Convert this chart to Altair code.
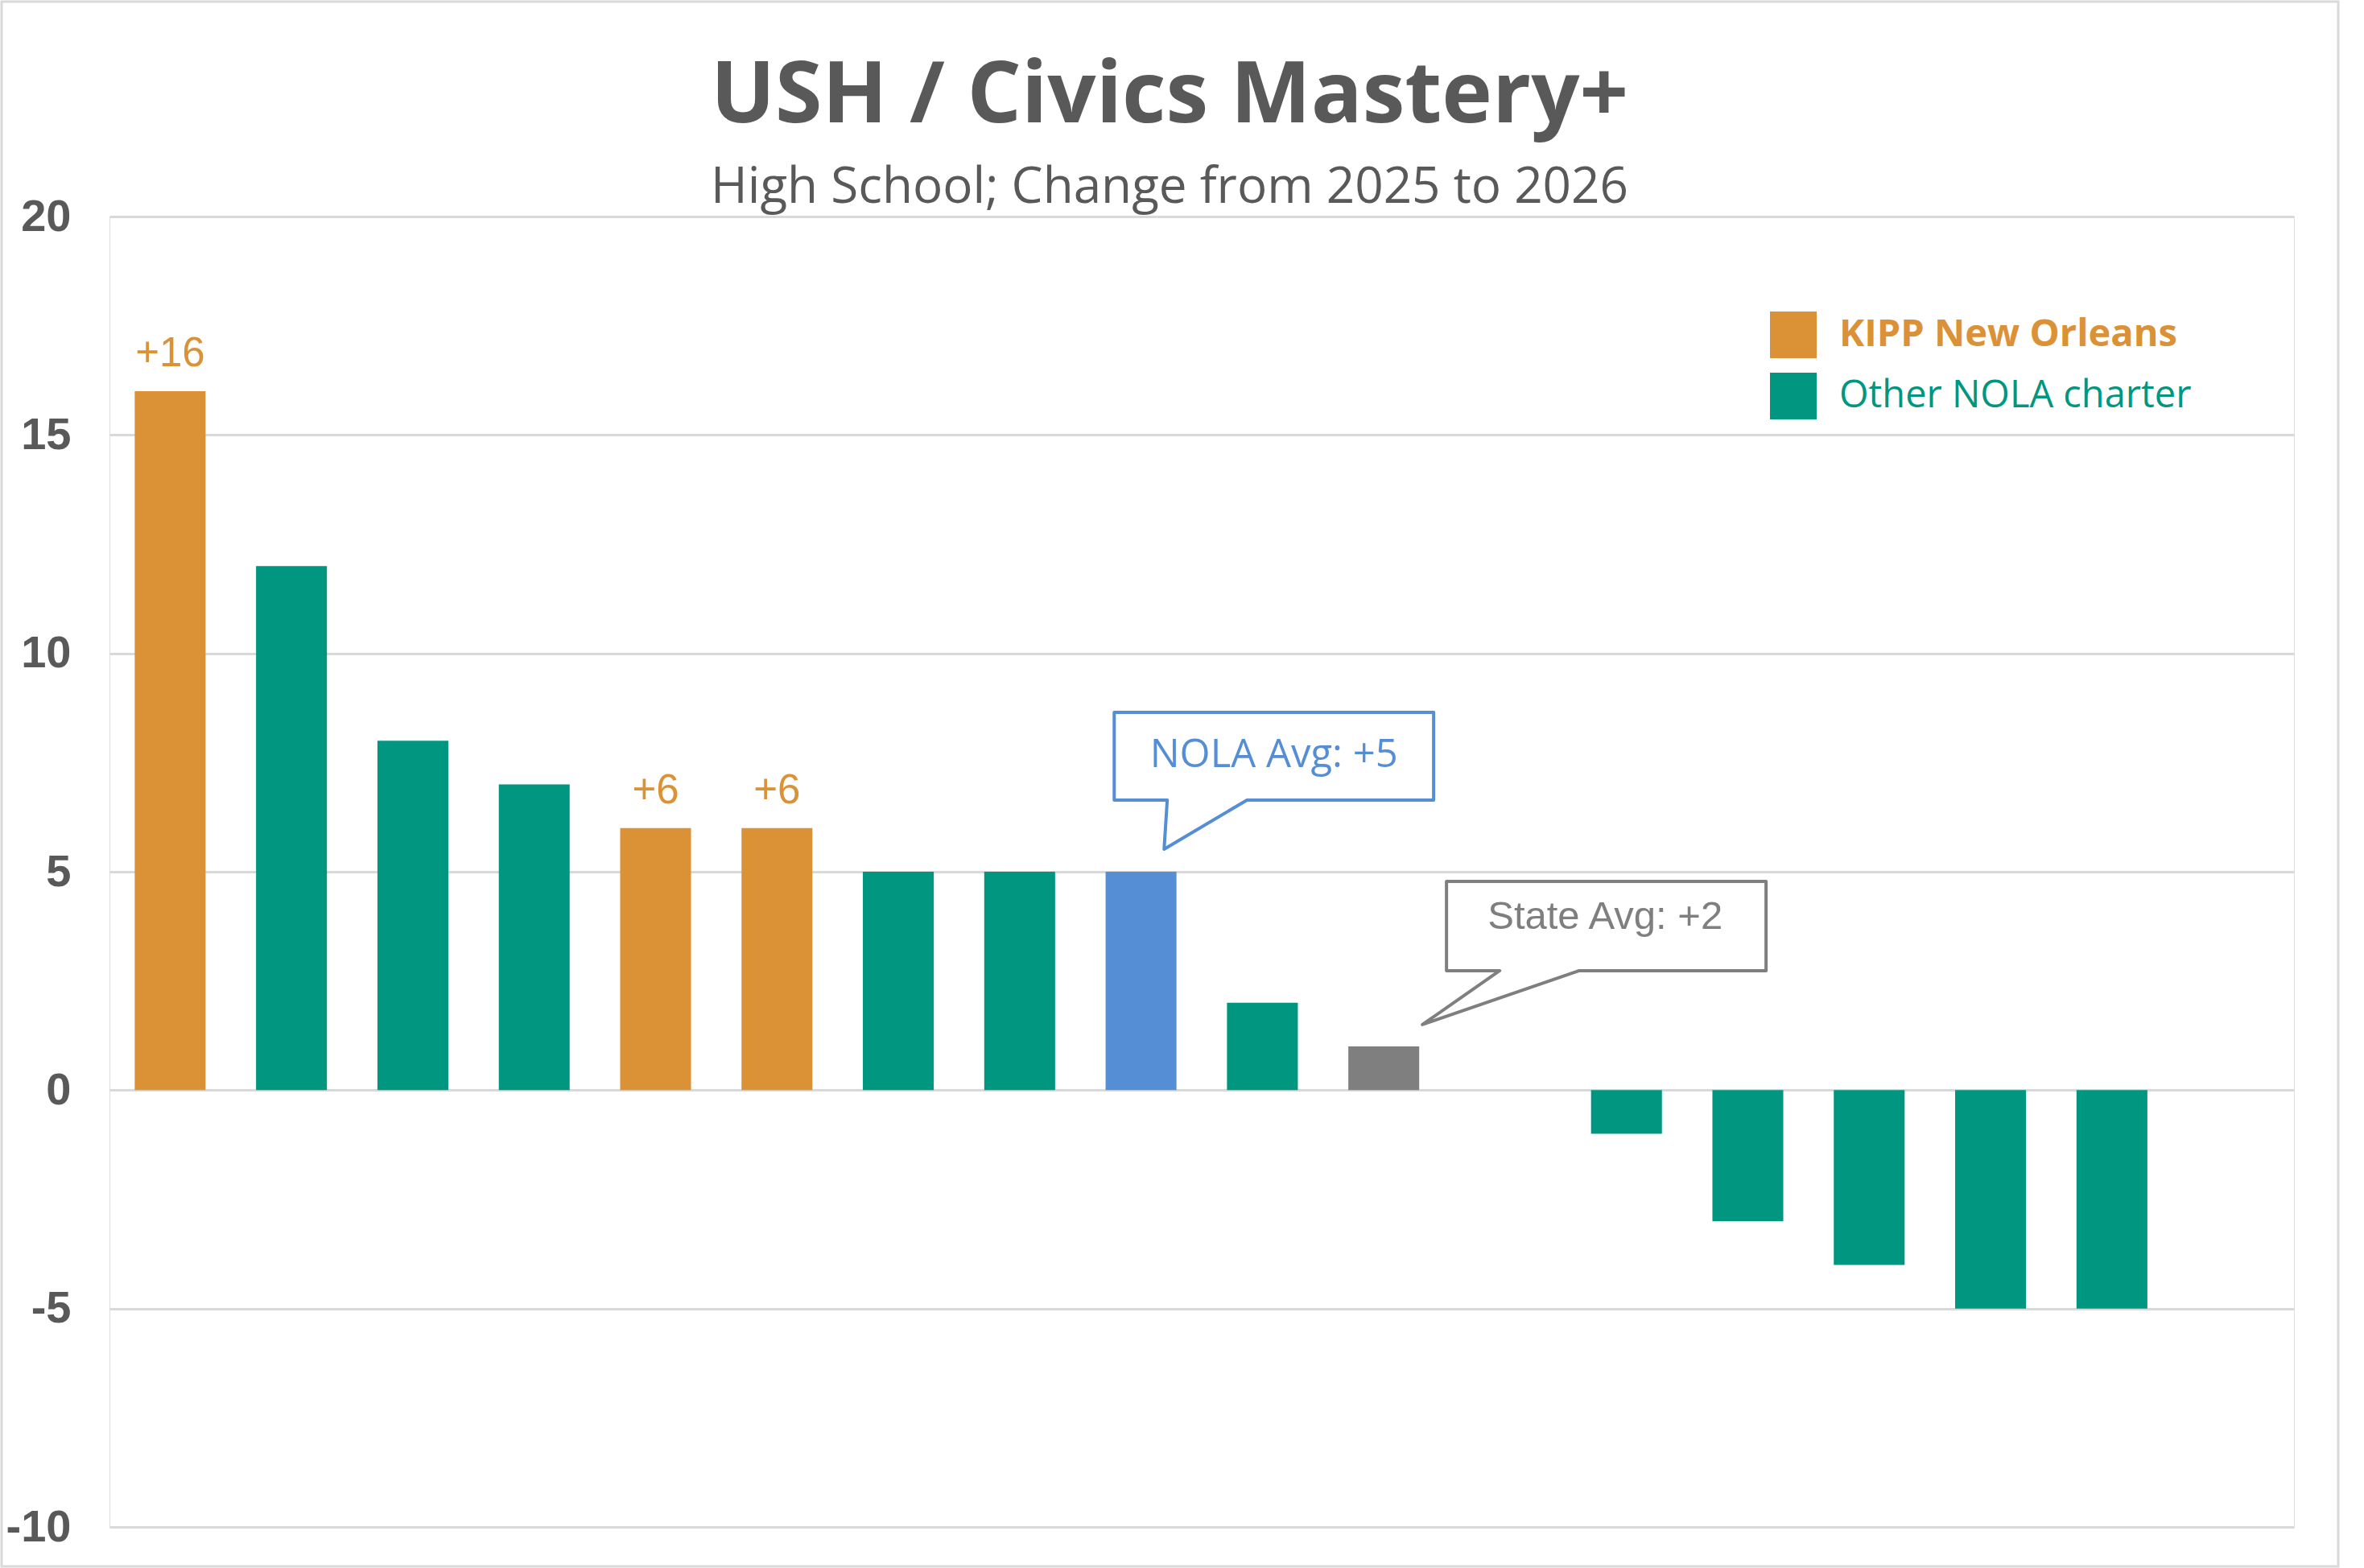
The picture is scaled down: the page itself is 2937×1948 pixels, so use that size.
import altair as alt
import pandas as pd

# ---------------- data ----------------
positions = list(range(17))
values = [16, 12, 8, 7, 6, 6, 5, 5, 5, 2, 1, 0, -1, -3, -4, -5, -5]
groups = [
    "KIPP New Orleans", "Other NOLA charter", "Other NOLA charter", "Other NOLA charter",
    "KIPP New Orleans", "KIPP New Orleans", "Other NOLA charter", "Other NOLA charter",
    "NOLA Avg", "Other NOLA charter", "State Avg", "Other NOLA charter",
    "Other NOLA charter", "Other NOLA charter", "Other NOLA charter", "Other NOLA charter",
    "Other NOLA charter",
]

group_names = ["KIPP New Orleans", "Other NOLA charter", "NOLA Avg", "State Avg"]
group_colors = ["#DB9237", "#009680", "#558ED5", "#7F7F7F"]
legend_names = ["KIPP New Orleans", "Other NOLA charter"]

y_ticks = [-10, -5, 0, 5, 10, 15, 20]

title_text = "USH / Civics Mastery+"
subtitle_text = "High School; Change from 2025 to 2026"

# callouts (in data units: x = slot index, y = value)
nola_text = "NOLA Avg: +5"
nola_text_pos = (9.095, 7.673)
nola_x = [7.779, 10.411, 10.411, 8.873, 8.190, 8.216, 7.779, 7.779]
nola_y = [8.649, 8.649, 6.641, 6.641, 5.517, 6.641, 6.641, 8.649]

state_text = "State Avg: +2"
state_text_pos = (11.824, 3.97)
state_x = [10.517, 13.150, 13.150, 11.611, 10.318, 10.955, 10.517, 10.517]
state_y = [4.780, 4.780, 2.735, 2.735, 1.500, 2.735, 2.735, 4.780]

# ---------------- tables ----------------
bars = pd.DataFrame({"pos": positions, "value": values, "group": groups})
nola_df = pd.DataFrame({"cx": nola_x, "cy": nola_y, "k": list(range(len(nola_x)))})
state_df = pd.DataFrame({"cx": state_x, "cy": state_y, "k": list(range(len(state_x)))})
nola_t = pd.DataFrame({"cx": [nola_text_pos[0]], "cy": [nola_text_pos[1]], "t": [nola_text]})
state_t = pd.DataFrame({"cx": [state_text_pos[0]], "cy": [state_text_pos[1]], "t": [state_text]})

HALF = 0.292
xscale = alt.Scale(domain=[-0.5, 17.5], nice=False, zero=False)
yscale = alt.Scale(domain=[-10, 20], nice=False, zero=False)

color_expr = "datum.label == 'KIPP New Orleans' ? '#DB9237' : '#009680'"
weight_expr = "datum.label == 'KIPP New Orleans' ? 'bold' : 'normal'"

bar_layer = alt.Chart(bars).transform_calculate(
    x0=f"datum.pos - {HALF}", x1=f"datum.pos + {HALF}", zero="0"
).mark_rect().encode(
    x=alt.X("x0:Q", scale=xscale, axis=None, title=None),
    x2="x1:Q",
    y=alt.Y("value:Q", scale=yscale, title=None,
            axis=alt.Axis(values=y_ticks, domain=False, ticks=False, grid=True,
                          gridColor="#D9D9D9", gridWidth=3, labelPadding=48,
                          labelExpr="'' + datum.value",
                          labelFont="Liberation Sans", labelFontSize=56,
                          labelFontWeight="bold", labelColor="#595959")),
    y2="zero:Q",
    color=alt.Color("group:N",
                    scale=alt.Scale(domain=group_names, range=group_colors),
                    legend=alt.Legend(values=legend_names, title=None, orient="none",
                                      legendX=2063, legendY=118, padding=0,
                                      symbolType="square", symbolSize=3364,
                                      symbolStrokeWidth=0, symbolOpacity=1,
                                      labelFont="Open Sans", labelFontSize=47,
                                      labelColor=alt.ExprRef(expr=color_expr),
                                      labelFontWeight=alt.ExprRef(expr=weight_expr),
                                      labelOffset=28, rowPadding=18, labelLimit=800)),
)

label_layer = alt.Chart(bars).transform_filter(
    "datum.group == 'KIPP New Orleans'"
).transform_calculate(
    lbl="(datum.value > 0 ? '+' : '') + datum.value"
).mark_text(font="Liberation Sans", fontSize=51, color="#DB9237",
            baseline="alphabetic", align="center", dy=-31).encode(
    x=alt.X("pos:Q", scale=xscale, axis=None, title=None),
    y=alt.Y("value:Q", scale=yscale, title=None),
    text="lbl:N",
)

nola_box = alt.Chart(nola_df).mark_line(color="#558ED5", strokeWidth=4,
                                        strokeJoin="round", strokeCap="round").encode(
    x=alt.X("cx:Q", scale=xscale, axis=None, title=None),
    y=alt.Y("cy:Q", scale=yscale, title=None),
    order="k:Q",
)
state_box = alt.Chart(state_df).mark_line(color="#7F7F7F", strokeWidth=4,
                                          strokeJoin="round", strokeCap="round").encode(
    x=alt.X("cx:Q", scale=xscale, axis=None, title=None),
    y=alt.Y("cy:Q", scale=yscale, title=None),
    order="k:Q",
)
nola_label = alt.Chart(nola_t).mark_text(font="Open Sans", fontSize=49, color="#558ED5",
                                         baseline="middle", align="center").encode(
    x=alt.X("cx:Q", scale=xscale, axis=None, title=None),
    y=alt.Y("cy:Q", scale=yscale, title=None),
    text="t:N",
)
state_label = alt.Chart(state_t).mark_text(font="Liberation Sans", fontSize=49, color="#7F7F7F",
                                           baseline="middle", align="center").encode(
    x=alt.X("cx:Q", scale=xscale, axis=None, title=None),
    y=alt.Y("cy:Q", scale=yscale, title=None),
    text="t:N",
)

frame = alt.Chart(pd.DataFrame({"a": [0]})).mark_rect(
    filled=False, stroke="#D9D9D9", strokeWidth=3
).encode(
    x=alt.value(-134), x2=alt.value(2769), y=alt.value(-267), y2=alt.value(1677)
)

chart = alt.layer(
    bar_layer, label_layer, nola_box, state_box, nola_label, state_label, frame
).properties(
    width=2714, height=1628,
    title=alt.TitleParams(text=title_text, subtitle=subtitle_text,
                          font="Open Sans", fontSize=106, fontWeight="bold", color="#595959",
                          subtitleFont="Open Sans", subtitleFontSize=62,
                          subtitleColor="#595959", subtitlePadding=29,
                          anchor="middle", frame="group", dx=-40, offset=-264),
    autosize=alt.AutoSizeParams(type="none"),
    padding={"left": 136, "top": 269, "right": 87, "bottom": 51},
).configure_view(stroke=None).configure(background="white")

chart.save("out.html", embed_options={"renderer": "svg", "actions": False})
